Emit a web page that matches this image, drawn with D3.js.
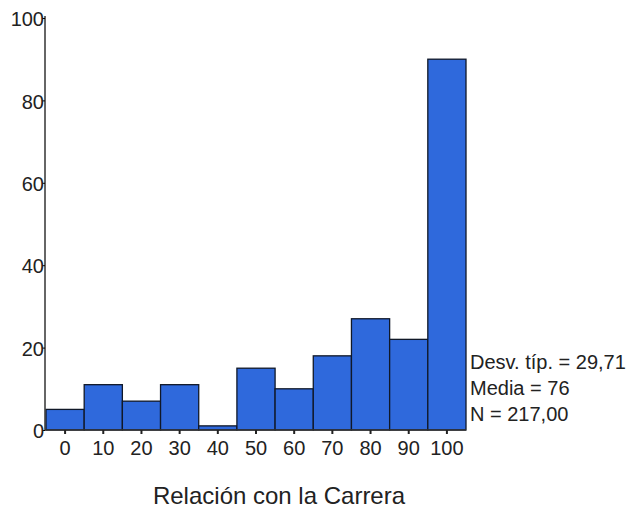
<!DOCTYPE html>
<html>
<head>
<meta charset="utf-8">
<script src="https://cdn.jsdelivr.net/npm/d3@7"></script>
<style>
  body { margin: 0; background: white; }
  text { font-family: "Liberation Sans", Arial, sans-serif; fill: #222; }
</style>
</head>
<body>
<div id="hist"></div>
<script>
var bins = ["0", "10", "20", "30", "40", "50", "60", "70", "80", "90", "100"];
var counts = [5, 11, 7, 11, 1, 15, 10, 18, 27, 22, 90];
var yTicks = [0, 20, 40, 60, 80, 100];
var statLines = ["Desv. típ. = 29,71", "Media = 76", "N = 217,00"];
var xTitle = "Relación con la Carrera";

var hist = {
  width: 636,
  height: 508,
  top: 18,
  bottom: 430,
  left: 45,
  right: 466,
}

let svg = d3.select("#hist")
  .append("svg")
  .attr("width", hist.width)
  .attr("height", hist.height);

/* scales */
let x = d3.scaleBand()
  .domain(bins)
  .range([hist.left + 1, hist.right])
  .padding(0);

let y = d3.scaleLinear()
  .domain([0, 100])
  .range([hist.bottom, hist.top]);

/* bars */
svg.append("g")
  .selectAll("rect")
  .data(counts)
  .enter()
  .append("rect")
  .attr("x", (d, i) => x(bins[i]))
  .attr("y", (d) => y(d))
  .attr("width", x.bandwidth())
  .attr("height", (d) => y(0) - y(d))
  .style("fill", "#2f69dc")
  .style("stroke", "#101828")
  .style("stroke-width", 1.3);

/* y axis */
let yAxis = svg.append("g")
  .attr("transform", `translate(${hist.left}, 0)`)
  .call(d3.axisLeft(y).tickValues(yTicks).tickSize(3).tickPadding(-2));
yAxis.select(".domain").attr("stroke", "#333").attr("stroke-width", 1.5).attr("d", `M0,${hist.top - 2}V${hist.bottom}`);
yAxis.selectAll("text").style("font-size", "20px").attr("dy", "0.38em");

/* x axis */
let xAxis = svg.append("g")
  .attr("transform", `translate(0, ${hist.bottom})`)
  .call(d3.axisBottom(x).tickSize(4).tickPadding(7));
xAxis.select(".domain").attr("stroke", "#333").attr("stroke-width", 1.5)
  .attr("d", `M${hist.left},0H${hist.right}`);
xAxis.selectAll(".tick line").attr("stroke", "#222").attr("stroke-width", 2);
xAxis.selectAll("text").style("font-size", "20px");

/* stats */
svg.append("g")
  .selectAll("text")
  .data(statLines)
  .enter()
  .append("text")
  .attr("x", 470)
  .attr("y", (d, i) => 369 + i * 26)
  .text((d) => d)
  .style("font-size", "20px");

/* title */
svg.append("text")
  .attr("x", 279)
  .attr("y", 504)
  .attr("text-anchor", "middle")
  .text(xTitle)
  .style("font-size", "24px");
</script>
</body>
</html>
